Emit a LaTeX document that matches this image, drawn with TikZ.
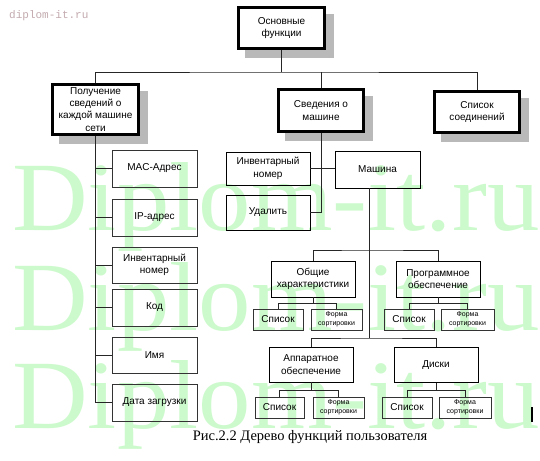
\documentclass[tikz,border=0pt]{standalone}
\usepackage{fontspec}
\setmainfont{Liberation Serif}
\setsansfont{Liberation Sans}
\setmonofont{Liberation Mono}
\usetikzlibrary{backgrounds}
\definecolor{wmgreen}{RGB}{205,250,205}
\definecolor{wmgray}{RGB}{195,170,175}
\definecolor{shadowgray}{RGB}{185,185,185}
\newcommand\mylbl{\sffamily\fontsize{10}{12.5}\selectfont}
\newcommand\mysmall{\sffamily\fontsize{7}{8.5}\selectfont}
\tikzset{
  mainbox/.style={draw=black, fill=white, line width=1.1pt,
    align=center, font=\mylbl, inner sep=1pt},
  innerframe/.style={draw=black, line width=0.5pt},
  subbox/.style={draw=black, line width=0.8pt, align=center, font=\mylbl, inner sep=1pt},
  leafbox/.style={draw=black!80, line width=0.8pt, align=center, font=\mylbl, inner sep=1pt},
  tinybox/.style={draw=black!80, line width=0.8pt, align=center, font=\mysmall, inner sep=1pt},
  conn/.style={draw=black!85, line width=0.7pt},
  shadowfill/.style={fill=shadowgray},
  wm/.style={anchor=base west, inner sep=0pt, text=wmgreen, font=\rmfamily\fontsize{98}{98}\selectfont, xscale=1.07, transform shape}
}
\begin{document}
\begin{tikzpicture}[x=1pt, y=-1pt]
\useasboundingbox (0,0) rectangle (540,460);

% watermark
\node[wm] (wm1) at (12,230) {Diplom-it.ru};
\node[wm] (wm2) at (12,330) {Diplom-it.ru};
\node[wm] (wm3) at (12,428) {Diplom-it.ru};
\node[anchor=west, inner sep=0pt, text=wmgray, font=\ttfamily\fontsize{11}{11}\selectfont] (wmsmall) at (9,16) {diplom-it.ru};

% main level
\node[mainbox, minimum width=87pt, minimum height=42pt] (top) at (281.5,28) {Основные\\функции};
\node[mainbox, minimum width=87pt, minimum height=51pt, font=\sffamily\fontsize{10}{12.2}\selectfont, inner sep=0pt] (poluch) at (95.5,109.5) {Получение\\сведений о\\каждой машине\\сети};
\node[mainbox, minimum width=86pt, minimum height=43pt] (sved) at (321,110.5) {Сведения о\\машине};
\node[mainbox, minimum width=86pt, minimum height=42pt] (spis) at (477,112) {Список\\соединений};

% inner frames of the main boxes
\foreach \n in {top,poluch,sved,spis}{
  \draw[innerframe] ([shift={(2.2,2.2)}]\n.north west) rectangle ([shift={(-2.2,-2.2)}]\n.south east);
}

% shadows of the main boxes
\begin{pgfonlayer}{background}
\fill[white] (0,0) rectangle (540,460);
\foreach \n in {top,poluch,sved,spis}{
  \fill[shadowfill] ([shift={(8,8)}]\n.north west) rectangle ([shift={(8,8)}]\n.south east);
}
\end{pgfonlayer}

% left column
\node[leafbox, minimum width=85pt, minimum height=37pt] (mac) at (154.5,168.5) {MAC-Адрес};
\node[leafbox, minimum width=85pt, minimum height=37pt] (ip) at (154.5,217.5) {IP-адрес};
\node[leafbox, minimum width=85pt, minimum height=36pt] (inva) at (154.5,265) {Инвентарный\\номер};
\node[leafbox, minimum width=85pt, minimum height=37pt] (kod) at (154.5,307.5) {Код};
\node[leafbox, minimum width=85pt, minimum height=36pt] (imya) at (154.5,355) {Имя};
\node[leafbox, minimum width=85pt, minimum height=37pt] (data) at (154.5,402.5) {Дата загрузки};

% middle
\node[subbox, minimum width=84pt, minimum height=33pt] (invb) at (268,168.5) {Инвентарный\\номер};
\node[subbox, minimum width=84pt, minimum height=35pt] (ud) at (268,212.5) {Удалить};
\node[subbox, minimum width=85pt, minimum height=37pt] (mash) at (377.5,169.5) {Машина};

\node[subbox, minimum width=84pt, minimum height=36pt] (obsh) at (313,279) {Общие\\характеристики};
\node[subbox, minimum width=84pt, minimum height=36pt] (prog) at (438,279) {Программное\\обеспечение};
\node[subbox, minimum width=84pt, minimum height=35pt] (app) at (311,364.5) {Аппаратное\\обеспечение};
\node[subbox, minimum width=84pt, minimum height=35pt] (disk) at (436,365) {Диски};

\node[leafbox, minimum width=50pt, minimum height=21pt] (spa) at (278,319.5) {Список};
\node[tinybox, minimum width=51pt, minimum height=21pt] (fa) at (336.5,319.5) {Форма\\сортировки};
\node[leafbox, minimum width=50pt, minimum height=21pt] (spb) at (409,319.5) {Список};
\node[tinybox, minimum width=53pt, minimum height=21pt] (fb) at (467.5,319.5) {Форма\\сортировки};
\node[leafbox, minimum width=49pt, minimum height=21pt] (spc) at (279.5,407.5) {Список};
\node[tinybox, minimum width=51pt, minimum height=21pt] (fc) at (338.5,407.5) {Форма\\сортировки};
\node[leafbox, minimum width=50pt, minimum height=21pt] (spd) at (407,407.5) {Список};
\node[tinybox, minimum width=52pt, minimum height=21pt] (fd) at (465,407.5) {Форма\\сортировки};

% connectors, top level
\coordinate (tb) at (282,72);
\draw[conn] (top.south) -- (top.south |- tb);
\draw[conn] (poluch.north) |- (tb) -| (spis.north);
\draw[conn] (sved.north) -- (sved.north |- tb);

% left column
\draw[conn] (poluch.south) |- (data.west);
\foreach \n in {mac,ip,inva,kod,imya}{\draw[conn] (\n.west) -- (\n.west -| poluch.south);}

% middle
\draw[conn] (sved.south) |- (ud.east);
\draw[conn] (invb.east) -- (invb.east -| mash.west);
\coordinate (mb) at (369,250);
\coordinate (mbb) at (369,338);
\draw[conn] (mb |- mash.south) -- (mbb);
\draw[conn] (obsh.north) |- (mb) -| (prog.north);
\draw[conn] (app.north) |- (mbb) -| (disk.north);

% small groups
\draw[conn] (obsh.south) -- ++(0,7);
\draw[conn] (spa.north) -- ++(0,-5) -| (fa.north);
\draw[conn] (prog.south) -- ++(0,7);
\draw[conn] (spb.north) -- ++(0,-5) -| (fb.north);
\draw[conn] (app.south) -- ++(0,9);
\draw[conn] (spc.north) -- ++(0,-6) -| (fc.north);
\draw[conn] (disk.south) -- ++(0,8.5);
\draw[conn] (spd.north) -- ++(0,-6) -| (fd.north);

% caption
\node[font=\rmfamily\fontsize{14.5}{16}\selectfont, inner sep=0pt] (cap) at (310,437) {Рис.2.2 Дерево функций пользователя};
\fill[black] (531,407) rectangle (533,422);
\end{tikzpicture}
\end{document}
